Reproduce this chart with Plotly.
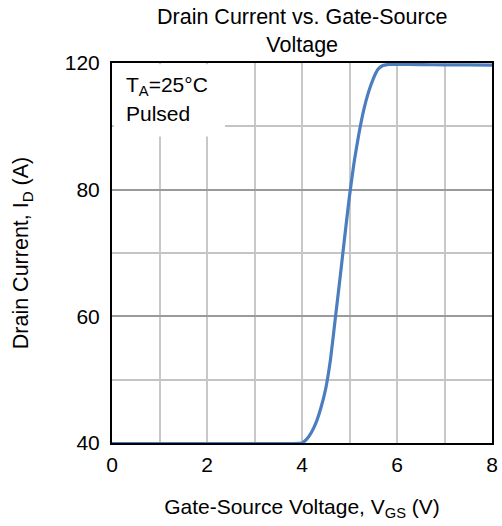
import plotly.graph_objects as go

# Transfer characteristic, pulsed, TA = 25 °C
vgs = [0.0, 1.0, 2.0, 3.0, 3.5, 4.0, 4.1, 4.2, 4.3, 4.4, 4.5, 4.6, 4.7, 4.8, 4.9,
       5.0, 5.1, 5.2, 5.3, 5.4, 5.5, 5.6, 5.7, 5.8, 6.0, 6.5, 7.0, 7.5, 8.0]
i_d = [39.9, 39.9, 39.9, 39.9, 39.9, 40.0, 40.6, 41.7, 43.3, 45.6, 48.6, 53.2, 59.6, 66.0, 72.6,
       79.0, 84.5, 88.9, 92.6, 95.4, 97.5, 99.0, 99.6, 99.75, 99.8, 99.75, 99.7, 99.7, 99.65]

y_tick_vals = [40, 60, 80, 100]
y_tick_text = ["40", "60", "80", "120"]
x_tick_vals = [0, 2, 4, 6, 8]

FONT = "Liberation Sans, Arial, sans-serif"

fig = go.Figure()
fig.add_trace(go.Scatter(
    x=vgs, y=i_d, mode="lines",
    line=dict(color="#4a7ebf", width=3.2, shape="spline", smoothing=0.4),
    showlegend=False, hoverinfo="skip",
))

# white panel behind the condition label
fig.add_shape(type="rect", xref="x", yref="y", x0=0.04, x1=2.38, y0=88.4, y1=99.8,
              fillcolor="white", line=dict(width=0), layer="between")
fig.add_annotation(x=0.25, y=96.4, xref="x", yref="y", text="T<sub>A</sub>=25°C",
                   showarrow=False, xanchor="left", yanchor="middle",
                   font=dict(family=FONT, size=21, color="black"))
fig.add_annotation(x=0.25, y=92.0, xref="x", yref="y", text="Pulsed",
                   showarrow=False, xanchor="left", yanchor="middle",
                   font=dict(family=FONT, size=21, color="black"))

# chart title
fig.add_annotation(x=0.5, y=1.084, xref="paper", yref="paper",
                   text="Drain Current vs. Gate-Source<br>Voltage",
                   showarrow=False, xanchor="center", yanchor="middle",
                   font=dict(family=FONT, size=21.5, color="black"))

fig.update_layout(
    width=502, height=526,
    margin=dict(l=112, r=4, t=63, b=83),
    paper_bgcolor="white", plot_bgcolor="white",
    font=dict(family=FONT, size=21, color="black"),
)
fig.update_xaxes(
    range=[0, 8], tickvals=x_tick_vals,
    ticks="outside", ticklen=2, tickcolor="rgba(0,0,0,0)",
    showline=True, linecolor="black", linewidth=2, mirror=True,
    showgrid=True, gridcolor="#c8c8c8", gridwidth=1.5,
    minor=dict(dtick=1, showgrid=True, gridcolor="#c8c8c8", gridwidth=1.5),
    zeroline=False,
    title=dict(text="Gate-Source Voltage, V<sub>GS</sub> (V)", standoff=24,
               font=dict(family=FONT, size=21)),
    tickfont=dict(family=FONT, size=21),
)
fig.update_yaxes(
    range=[40, 100], tickvals=y_tick_vals, ticktext=y_tick_text,
    ticks="outside", ticklen=6, tickcolor="rgba(0,0,0,0)",
    showline=True, linecolor="black", linewidth=2, mirror=True,
    showgrid=True, gridcolor="#9a9a9a", gridwidth=2,
    minor=dict(dtick=10, tick0=40, showgrid=True, gridcolor="#c4c4c4", gridwidth=2),
    zeroline=False,
    title=dict(text="Drain Current, I<sub>D</sub> (A)", standoff=30,
               font=dict(family=FONT, size=21.5)),
    tickfont=dict(family=FONT, size=21),
)

fig.write_html("out.html")
